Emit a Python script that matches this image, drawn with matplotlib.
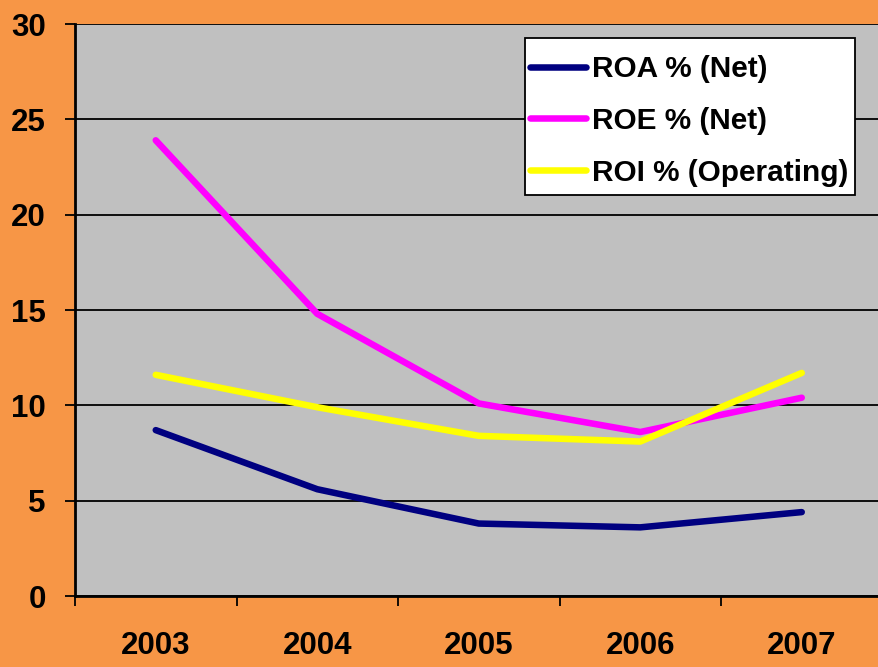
import matplotlib
matplotlib.use("Agg")
import matplotlib.pyplot as plt
from matplotlib.patches import Rectangle
import numpy as np

years = ["2003", "2004", "2005", "2006", "2007"]
roa = [8.7, 5.6, 3.8, 3.6, 4.4]
roe = [23.9, 14.8, 10.1, 8.6, 10.4]
roi = [11.6, 9.9, 8.4, 8.1, 11.7]
labels = ["ROA % (Net)", "ROE % (Net)", "ROI % (Operating)"]
colors = ["#000080", "#FF00FF", "#FFFF00"]
yticks = [0, 5, 10, 15, 20, 25, 30]

plt.rcParams['font.family'] = ['Liberation Sans', 'DejaVu Sans']
plt.rcParams['font.weight'] = 'bold'

W, H = 879, 667
fig = plt.figure(figsize=(W / 100, H / 100), dpi=100, facecolor="#F79646")
ax = fig.add_axes([75 / W, (H - 596) / H, 807.5 / W, 572 / H])
ax.set_facecolor("#C0C0C0")

x = np.arange(len(years))
for vals, lab, c in zip([roa, roe, roi], labels, colors):
    ax.plot(x, vals, color=c, lw=4.7, solid_capstyle='round', label=lab)

ax.set_xlim(-0.5, len(years) - 0.5)
ax.set_ylim(0, 30)
ax.set_yticks(yticks)
ax.yaxis.grid(True, color="black", lw=1.3)
ax.set_axisbelow(True)

ax.set_xticks(np.arange(len(years) + 1) - 0.5)
ax.set_xticklabels([])
ax.set_xticks(x, minor=True)
ax.set_xticklabels(years, minor=True)
ax.tick_params(axis='x', which='major', direction='out', length=7, width=1.3, color='black')
ax.tick_params(axis='x', which='minor', length=0, pad=25, labelsize=22.5)
ax.tick_params(axis='y', direction='out', length=7, width=1.3, pad=14, labelsize=22.5)

for s in ['top', 'right']:
    ax.spines[s].set_visible(False)
for s in ['left', 'bottom']:
    ax.spines[s].set_linewidth(2)
    ax.spines[s].set_color('black')

# legend frame drawn as a box
frame = Rectangle((525 / W, 1 - 195 / H), 330 / W, 157 / H, transform=fig.transFigure,
                  facecolor='white', edgecolor='black', lw=1.3, clip_on=False, zorder=4)
ax.add_patch(frame)

leg = ax.legend(loc='upper left', bbox_to_anchor=(530 / W, 1 - 55 / H),
                bbox_transform=fig.transFigure, frameon=False,
                prop={'size': 21.4, 'weight': 'bold'},
                handlelength=1.9, handletextpad=0.2,
                labelspacing=0.8, borderpad=0, borderaxespad=0)
leg.set_zorder(5)
for line in leg.get_lines():
    line.set_linewidth(4.7)

fig.savefig("out.png", dpi=100, facecolor=fig.get_facecolor())
